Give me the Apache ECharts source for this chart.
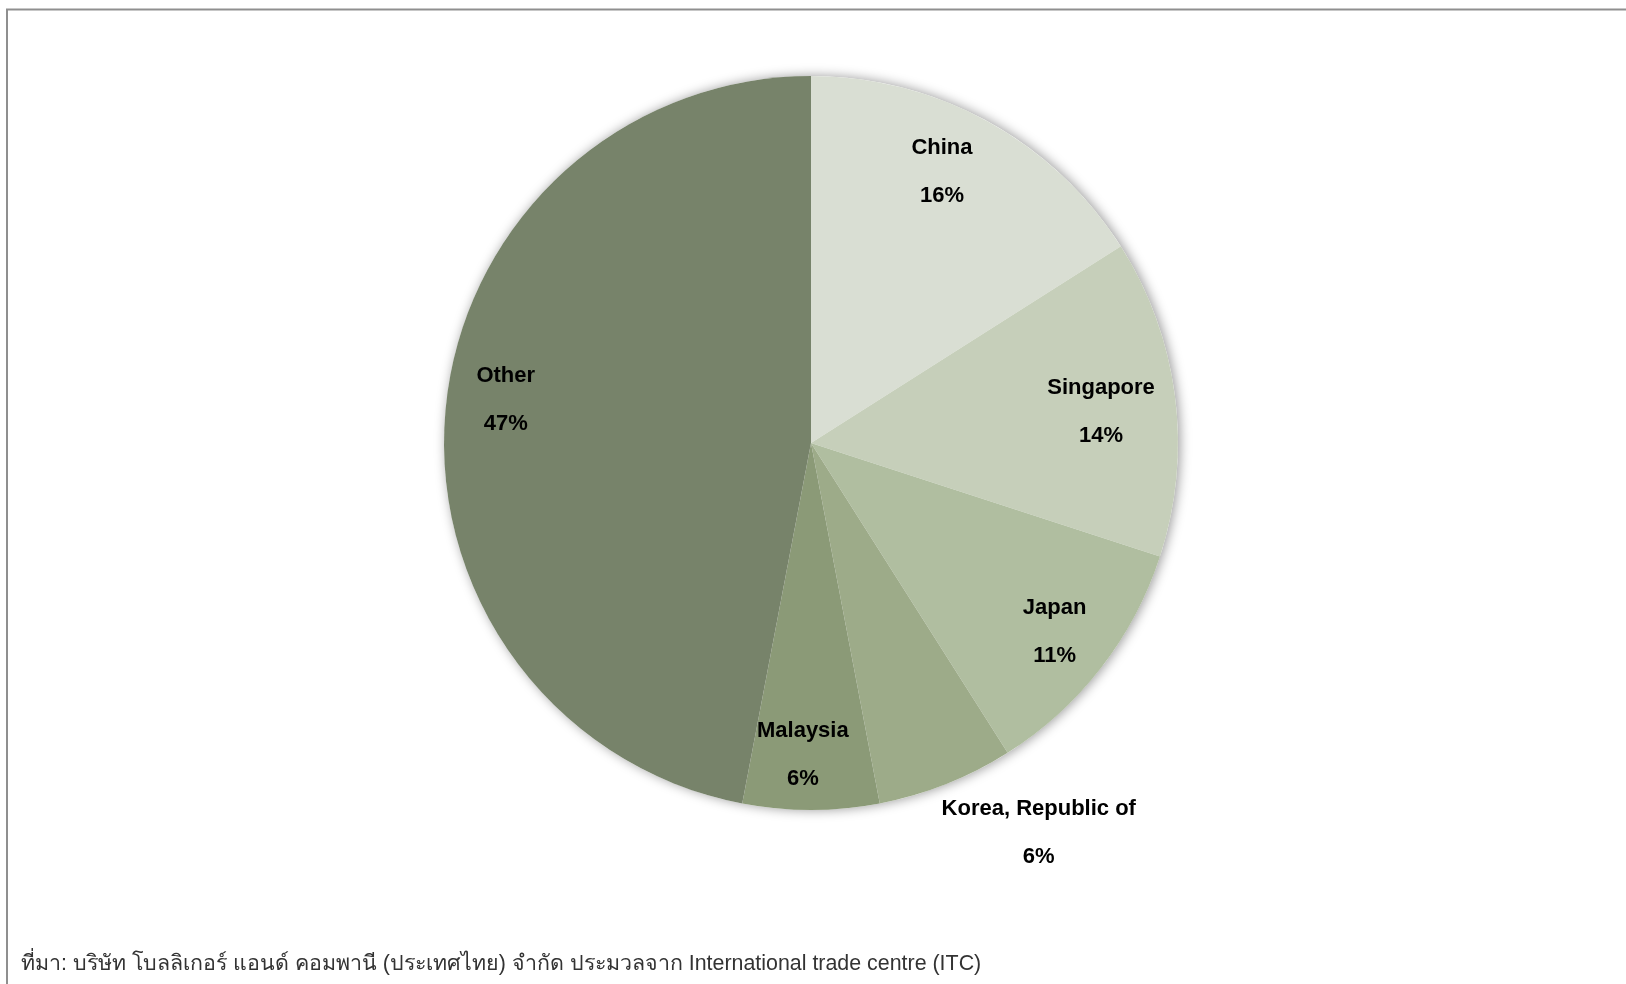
<!DOCTYPE html>
<html>
<head>
<meta charset="utf-8">
<script src="https://cdn.jsdelivr.net/npm/echarts@6/dist/echarts.min.js"></script>
<style>
  html, body { margin: 0; padding: 0; background: #ffffff; }
  #chart { width: 1626px; height: 984px; }
</style>
</head>
<body>
<div id="chart"></div>
<script>
// Export markets and their share of the total (%)
const markets = ['China', 'Singapore', 'Japan', 'Korea, Republic of', 'Malaysia', 'Other'];
const shares = [16, 14, 11, 6, 6, 47];
const sliceColors = ['#d9ded3', '#c6cfba', '#b0bea0', '#9dab89', '#8b9a77', '#77836a'];
const sourceNote = 'ที่มา: บริษัท โบลลิเกอร์ แอนด์ คอมพานี (ประเทศไทย) จำกัด ประมวลจาก International trade centre (ITC)';

const CX = 811, CY = 443, R = 367;
// Label placement: distance from centre (fraction of radius) and a small turn (degrees)
const labelReach = [0.82, 0.795, 0.84, 1.23, 0.85, 0.84];
const labelTurn = [-3, 1, 0, -8.7, 1.5, 2.6];

const total = shares.reduce((a, b) => a + b, 0);
const midAngles = [];
let acc = 0;
shares.forEach(v => { midAngles.push((acc + v / 2) / total * 360); acc += v; });

const chart = echarts.init(document.getElementById('chart'), null, { renderer: 'canvas' });
chart.setOption({
  backgroundColor: '#ffffff',
  animation: false,
  graphic: [
    { type: 'line', shape: { x1: 6, y1: 9.5, x2: 1626, y2: 9.5 }, style: { stroke: '#8f8f8f', lineWidth: 2 } },
    { type: 'line', shape: { x1: 7, y1: 9, x2: 7, y2: 984 }, style: { stroke: '#8f8f8f', lineWidth: 2 } },
    {
      type: 'text', left: 21, top: 954,
      style: { text: sourceNote, fill: '#333333', font: '21.4px "Liberation Sans", "Noto Sans", sans-serif' }
    }
  ],
  series: [
    {
      // soft shadow disc under the pie
      type: 'pie', silent: true, z: 1,
      center: [CX, CY], radius: R,
      label: { show: false }, labelLine: { show: false },
      itemStyle: { color: '#ffffff', shadowBlur: 12, shadowColor: 'rgba(0,0,0,0.4)', shadowOffsetX: 2, shadowOffsetY: 0 },
      data: [1]
    },
    {
      type: 'pie', z: 2,
      center: [CX, CY], radius: R,
      startAngle: 90, clockwise: true,
      avoidLabelOverlap: false,
      itemStyle: { borderWidth: 0 },
      labelLine: { show: false },
      label: {
        show: true, position: 'inside',
        formatter: p => '{n|' + p.name + '}\n{v|' + p.value + '%}',
        rich: {
          n: { fontFamily: '"Liberation Sans", Arial, sans-serif', fontWeight: 'bold', fontSize: 22, color: '#000', lineHeight: 48, align: 'center' },
          v: { fontFamily: '"Liberation Sans", Arial, sans-serif', fontWeight: 'bold', fontSize: 22, color: '#000', lineHeight: 48, align: 'center' }
        }
      },
      labelLayout: function (params) {
        const i = params.dataIndex;
        const a = (midAngles[i] + labelTurn[i]) * Math.PI / 180;
        const d = labelReach[i] * R;
        return {
          x: CX + d * Math.sin(a),
          y: CY - d * Math.cos(a),
          align: 'center',
          verticalAlign: 'middle'
        };
      },
      data: markets.map((m, i) => ({ name: m, value: shares[i], itemStyle: { color: sliceColors[i] } }))
    }
  ]
});
</script>
</body>
</html>
